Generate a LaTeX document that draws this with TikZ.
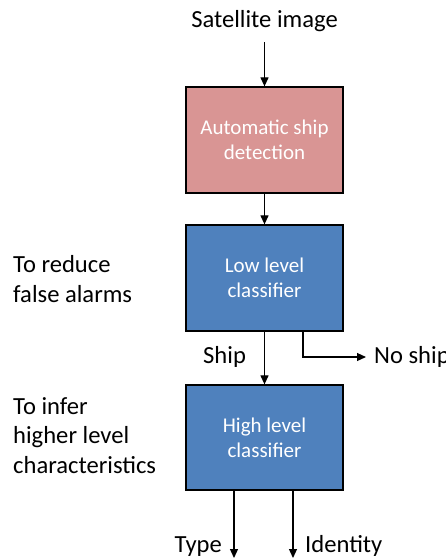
\documentclass[tikz,border=0pt]{standalone}
\usepackage{fontspec}
\setmainfont{Carlito}
\usetikzlibrary{arrows.meta,calc}
\definecolor{pinkbox}{HTML}{D99594}
\definecolor{bluebox}{HTML}{4F81BD}
\tikzset{
  stagebox/.style={draw=black,line width=1.3pt,minimum width=157pt,minimum height=106pt,
    text=white,align=center,font=\fontsize{21}{25}\selectfont,inner sep=0pt},
  bigtxt/.style={font=\fontsize{24.6}{29.5}\selectfont,inner sep=0pt,text=black},
  arr/.style={line width=1.2pt,-{Triangle[length=9pt,width=8pt]}}
}
\begin{document}
\begin{tikzpicture}[x=1pt,y=-1pt]
\useasboundingbox (0,0) rectangle (446,558);
\node[stagebox,fill=pinkbox] (b1) at (264.5,140) {Automatic ship\\detection};
\node[stagebox,fill=bluebox] (b2) at (264.5,278) {Low level\\classifier};
\node[stagebox,fill=bluebox,minimum height=105pt] (b3) at (264.5,437.5) {High level\\classifier};
\node[bigtxt,anchor=base] (sat) at (264.5,27) {Satellite image};
\coordinate (satend) at (264.5,42);
\draw[arr] (satend) -- (b1.north);
\draw[arr] (b1.south) -- (b2.north);
\draw[arr] (b2.south) -- (b3.north);
\node[bigtxt,anchor=base west] (ship) at (203,363) {Ship};
\node[bigtxt,anchor=base west] (noship) at (374,363) {No ship};
\coordinate (nsstart) at (303,331);
\coordinate (nsend) at (366,357);
\draw[arr] (b2.south -| nsstart) |- (nsend);
\node[bigtxt,anchor=base west,align=left] (reduce) at (13,302) {To reduce\\false alarms};
\node[bigtxt,anchor=base west,align=left] (infer) at (13,473) {To infer\\higher level\\characteristics};
\coordinate (typeend) at (234,558);
\coordinate (idend) at (293,558);
\draw[arr] (b3.south -| typeend) -- (typeend);
\draw[arr] (b3.south -| idend) -- (idend);
\node[bigtxt,anchor=base east] (type) at (222,552) {Type};
\node[bigtxt,anchor=base west] (ident) at (305,552) {Identity};
\end{tikzpicture}
\end{document}
